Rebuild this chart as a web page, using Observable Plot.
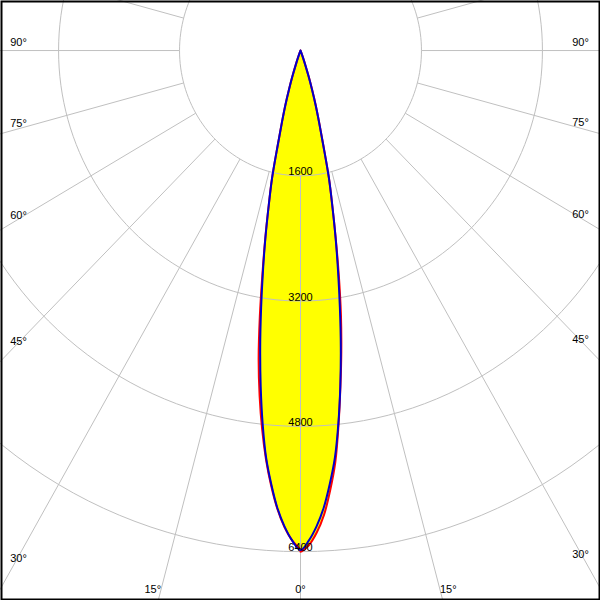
<!DOCTYPE html>
<html><head><meta charset="utf-8">
<script src="https://cdn.jsdelivr.net/npm/d3@7"></script>
<script src="https://cdn.jsdelivr.net/npm/@observablehq/plot@0.6"></script>
<style>html,body{margin:0;padding:0;background:#fff}#chart{width:600px;height:600px;overflow:hidden}</style>
</head><body><div id="chart"></div>
<script>
// Gamma angles (degrees from nadir) and luminous intensities (cd)
const gammaAngles   = [0,1,2,3,4,5,6,7,8,9,10,11,12,13,14,15,16,17,18,19,20,22,25,30,40,50,60,70,80,90];
const intensityC0   = [6400,6320,6160,5940,5630,5280,4810,4330,3880,3420,2920,2440,2020,1670,1250,960,740,540,350,195,90,25,5,0,0,0,0,0,0,0];
const intensityC180 = [6380,6260,6090,5860,5570,5240,4860,4440,3980,3440,2900,2440,2020,1670,1240,950,730,520,340,190,90,25,5,0,0,0,0,0,0,0];
const intensityC90  = [6380,6260,6080,5850,5550,5220,4790,4320,3830,3330,2860,2430,2020,1670,1240,950,730,520,340,190,90,25,5,0,0,0,0,0,0,0];
const intensityC270 = [6380,6260,6080,5850,5550,5220,4790,4320,3830,3330,2860,2430,2020,1670,1240,950,730,520,340,190,90,25,5,0,0,0,0,0,0,0];

const ringValues = [1600, 3200, 4800, 6400];
const ringLabels = ["1600", "3200", "4800", "6400"];
const angleTicks = [0, 15, 30, 45, 60, 75, 90];
const angleTickLabels = ["0°", "15°", "30°", "45°", "60°", "75°", "90°"];
const spokeAngles = d3.range(0, 360, 15);

const W = 600, H = 600;
const xMax = 3968, yTop = -639, yBottom = 7024;
const rad = d => d * Math.PI / 180;
const kx = W / (2 * xMax), ky = H / (yBottom - yTop);
const px2x = p => -xMax + p / kx;
const py2y = p => yTop + p / ky;

function outline(left, right) {
  const pts = [];
  for (let i = gammaAngles.length - 1; i >= 0; i--) {
    const g = rad(gammaAngles[i]);
    pts.push({x: -left[i] * Math.sin(g), y: left[i] * Math.cos(g)});
  }
  for (let i = 0; i < gammaAngles.length; i++) {
    const g = rad(gammaAngles[i]);
    pts.push({x: right[i] * Math.sin(g), y: right[i] * Math.cos(g)});
  }
  return pts.filter((p, i) => i === 0 || Math.abs(p.x - pts[i-1].x) > 1e-9 || Math.abs(p.y - pts[i-1].y) > 1e-9);
}
const redCurve = outline(intensityC180, intensityC0);
const blueCurve = outline(intensityC270, intensityC90);

const ringPts = ringValues.flatMap(r => d3.range(0, 361, 2).map(a => ({r, x: r * Math.sin(rad(a)), y: r * Math.cos(rad(a))})));
const spokes = spokeAngles.map(a => ({
  x1: 1600 * Math.sin(rad(a)), y1: 1600 * Math.cos(rad(a)),
  x2: 12000 * Math.sin(rad(a)), y2: 12000 * Math.cos(rad(a))
}));
const ringText = ringValues.map((r, i) => ({x: 0, y: r - 4 / ky, t: ringLabels[i]}));

// angle labels
const sideLabels = [], bottomLeft = [], bottomRight = [], bottomMid = [];
angleTicks.forEach((a, i) => {
  const t = angleTickLabels[i];
  if (a >= 30) {
    const dyPx = -8 + (90 - a) * 0.16;
    for (const [side, px] of [[-1, 18], [1, 580]]) {
      const X = px2x(px);
      const Y = Math.abs(X) * Math.cos(rad(a)) / Math.sin(rad(a)) + dyPx / ky;
      sideLabels.push({x: X, y: Y, t});
    }
  } else {
    const Y = py2y(589);
    if (a === 0) bottomMid.push({x: 0, y: Y, t});
    else {
      bottomLeft.push({x: -Y * Math.tan(rad(a)), y: Y, t});
      bottomRight.push({x: Y * Math.tan(rad(a)), y: Y, t});
    }
  }
});

const font = {fontSize: 11, fontFamily: "Liberation Sans, Arial, sans-serif", fill: "black", lineAnchor: "middle"};
const grid = "#c0c0c0";

const plot = Plot.plot({
  width: W, height: H, margin: 0,
  x: {domain: [-xMax, xMax], range: [0, W], axis: null},
  y: {domain: [yTop, yBottom], range: [0, H], axis: null},
  style: {background: "white", overflow: "hidden"},
  marks: [
    Plot.line(redCurve, {x: "x", y: "y", fill: "#ffff00", stroke: "none", curve: "catmull-rom"}),
    Plot.line(blueCurve, {x: "x", y: "y", fill: "#ffff00", stroke: "none", curve: "catmull-rom"}),
    Plot.line(ringPts, {x: "x", y: "y", z: "r", stroke: grid, strokeWidth: 1}),
    Plot.link(spokes, {x1: "x1", y1: "y1", x2: "x2", y2: "y2", stroke: grid, strokeWidth: 1}),
    Plot.line(redCurve, {x: "x", y: "y", stroke: "#ff0000", strokeWidth: 2, curve: "catmull-rom"}),
    Plot.line(blueCurve, {x: "x", y: "y", stroke: "#0000cc", strokeWidth: 2, curve: "catmull-rom"}),
    Plot.text(ringText, {x: "x", y: "y", text: "t", textAnchor: "middle", ...font}),
    Plot.text(sideLabels, {x: "x", y: "y", text: "t", textAnchor: "middle", ...font}),
    Plot.text(bottomMid, {x: "x", y: "y", text: "t", textAnchor: "middle", ...font}),
    Plot.text(bottomLeft, {x: "x", y: "y", text: "t", textAnchor: "end", ...font}),
    Plot.text(bottomRight, {x: "x", y: "y", text: "t", textAnchor: "start", ...font}),
    Plot.frame({stroke: "black", strokeWidth: 2, inset: 1})
  ]
});
document.getElementById("chart").appendChild(plot);
</script>
</body></html>
